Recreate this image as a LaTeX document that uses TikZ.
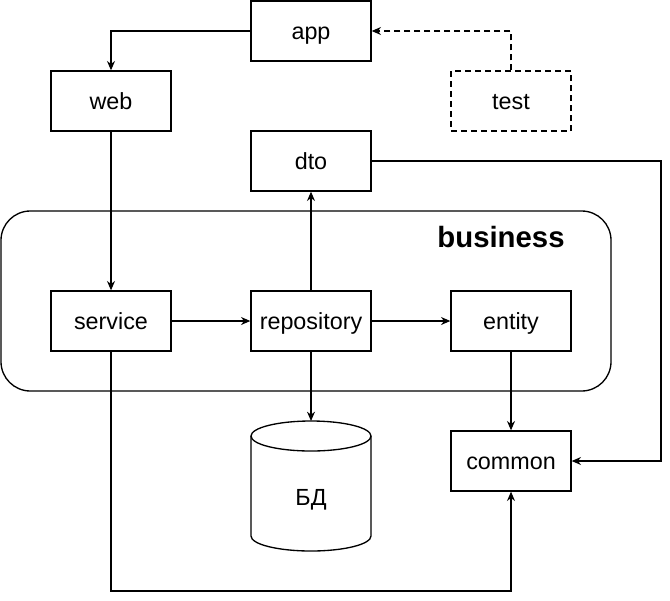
\documentclass[tikz,border=0pt]{standalone}
\usepackage{fontspec}
\setmainfont{Liberation Sans}
\usetikzlibrary{arrows.meta}
\begin{document}
\begin{tikzpicture}[x=0.75pt,y=-0.75pt,
  txt/.style={font=\fontsize{17.5}{20}\selectfont, text height=12pt, text depth=0pt},
  box/.style={txt, draw, line width=1pt, minimum width=90pt, minimum height=45pt, inner sep=0pt},
  conn/.style={draw, line width=1pt, -{Stealth[length=7pt,width=6pt]}}]
\useasboundingbox (0,0) rectangle (670,600);
% container
\node[draw, line width=1pt, rounded corners=22pt, minimum width=457.5pt, minimum height=135pt, inner sep=0pt] (business) at (306,301) {};
\node[font=\bfseries\fontsize{22}{26}\selectfont, text height=16pt, text depth=0pt, inner sep=0pt] (businesslbl) at (501,237) {business};
% boxes
\node[box] (app) at (311,31) {app};
\node[box] (web) at (111,101) {web};
\node[box, dashed, dash pattern=on 4.5pt off 3pt] (test) at (511,101) {test};
\node[box] (dto) at (311,161) {dto};
\node[box] (service) at (111,321) {service};
\node[box] (repository) at (311,321) {repository};
\node[box] (entity) at (511,321) {entity};
\node[box] (common) at (511,461) {common};
% cylinder
\draw[line width=1pt] (251,436) -- (251,536) arc[start angle=180, end angle=360, x radius=60, y radius=-15] -- (371,436);
\draw[line width=1pt] (311,436) ellipse [x radius=60, y radius=15];
\node[txt, inner sep=0pt] (db) at (311,497) {БД};
\coordinate (dbtop) at (311,421);
% connectors
\draw[conn] (app.west) -| (web.north);
\draw[conn, dashed, dash pattern=on 4.5pt off 3pt] (test.north) |- (app.east);
\draw[conn] (web.south) -- (service.north);
\draw[conn] (service.east) -- (repository.west);
\draw[conn] (repository.east) -- (entity.west);
\draw[conn] (repository.north) -- (dto.south);
\draw[conn] (repository.south) -- (dbtop);
\draw[conn] (entity.south) -- (common.north);
\coordinate (dtoR) at (661,161);
\draw[conn] (dto.east) -- (dtoR) |- (common.east);
\coordinate (svcB) at (111,591);
\draw[conn] (service.south) -- (svcB) -| (common.south);
\end{tikzpicture}
\end{document}
